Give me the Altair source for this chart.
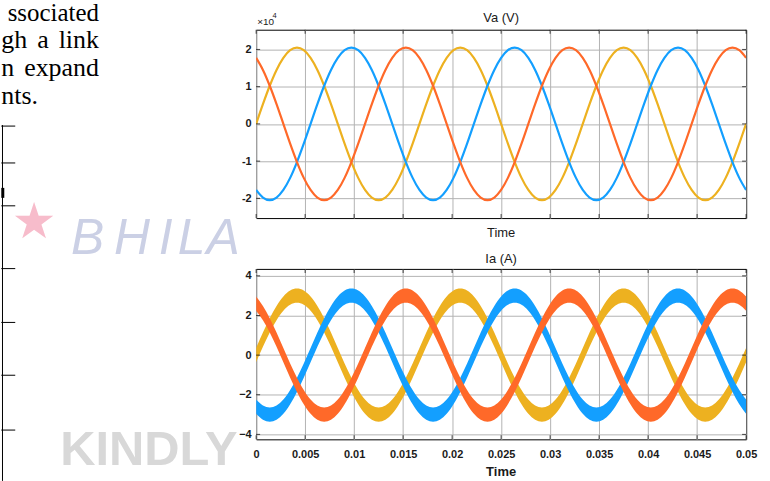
import altair as alt
import pandas as pd

# ---------------- data ----------------
# sample times (s), 15-degree steps of a 60 Hz cycle over 0 .. 0.05 s
time_s = [0.0, 0.000694, 0.001389, 0.002083, 0.002778, 0.003472, 0.004167, 0.004861, 0.005556, 0.00625, 0.006944, 0.007639,
          0.008333, 0.009028, 0.009722, 0.010417, 0.011111, 0.011806, 0.0125, 0.013194, 0.013889, 0.014583, 0.015278, 0.015972,
          0.016667, 0.017361, 0.018056, 0.01875, 0.019444, 0.020139, 0.020833, 0.021528, 0.022222, 0.022917, 0.023611, 0.024306,
          0.025, 0.025694, 0.026389, 0.027083, 0.027778, 0.028472, 0.029167, 0.029861, 0.030556, 0.03125, 0.031944, 0.032639,
          0.033333, 0.034028, 0.034722, 0.035417, 0.036111, 0.036806, 0.0375, 0.038194, 0.038889, 0.039583, 0.040278, 0.040972,
          0.041667, 0.042361, 0.043056, 0.04375, 0.044444, 0.045139, 0.045833, 0.046528, 0.047222, 0.047917, 0.048611, 0.049306,
          0.05]

# Va (V)
va_yellow = [0, 5310, 10250, 14500, 17750, 19800, 20500, 19800, 17750, 14500, 10250, 5310,
             0, -5310, -10250, -14500, -17750, -19800, -20500, -19800, -17750, -14500, -10250, -5310,
             0, 5310, 10250, 14500, 17750, 19800, 20500, 19800, 17750, 14500, 10250, 5310,
             0, -5310, -10250, -14500, -17750, -19800, -20500, -19800, -17750, -14500, -10250, -5310,
             0, 5310, 10250, 14500, 17750, 19800, 20500, 19800, 17750, 14500, 10250, 5310,
             0, -5310, -10250, -14500, -17750, -19800, -20500, -19800, -17750, -14500, -10250, -5310,
             0]
va_blue = [-17750, -19800, -20500, -19800, -17750, -14500, -10250, -5310, 0, 5310, 10250, 14500,
           17750, 19800, 20500, 19800, 17750, 14500, 10250, 5310, 0, -5310, -10250, -14500,
           -17750, -19800, -20500, -19800, -17750, -14500, -10250, -5310, 0, 5310, 10250, 14500,
           17750, 19800, 20500, 19800, 17750, 14500, 10250, 5310, 0, -5310, -10250, -14500,
           -17750, -19800, -20500, -19800, -17750, -14500, -10250, -5310, 0, 5310, 10250, 14500,
           17750, 19800, 20500, 19800, 17750, 14500, 10250, 5310, 0, -5310, -10250, -14500,
           -17750]
va_orange = [17750, 14500, 10250, 5310, 0, -5310, -10250, -14500, -17750, -19800, -20500, -19800,
             -17750, -14500, -10250, -5310, 0, 5310, 10250, 14500, 17750, 19800, 20500, 19800,
             17750, 14500, 10250, 5310, 0, -5310, -10250, -14500, -17750, -19800, -20500, -19800,
             -17750, -14500, -10250, -5310, 0, 5310, 10250, 14500, 17750, 19800, 20500, 19800,
             17750, 14500, 10250, 5310, 0, -5310, -10250, -14500, -17750, -19800, -20500, -19800,
             -17750, -14500, -10250, -5310, 0, 5310, 10250, 14500, 17750, 19800, 20500, 19800,
             17750]

# Ia (A) - centre of the rippled trace
ia_yellow = [0, 0.78, 1.5, 2.12, 2.6, 2.9, 3.0, 2.9, 2.6, 2.12, 1.5, 0.78,
             0, -0.78, -1.5, -2.12, -2.6, -2.9, -3.0, -2.9, -2.6, -2.12, -1.5, -0.78,
             0, 0.78, 1.5, 2.12, 2.6, 2.9, 3.0, 2.9, 2.6, 2.12, 1.5, 0.78,
             0, -0.78, -1.5, -2.12, -2.6, -2.9, -3.0, -2.9, -2.6, -2.12, -1.5, -0.78,
             0, 0.78, 1.5, 2.12, 2.6, 2.9, 3.0, 2.9, 2.6, 2.12, 1.5, 0.78,
             0, -0.78, -1.5, -2.12, -2.6, -2.9, -3.0, -2.9, -2.6, -2.12, -1.5, -0.78,
             0]
ia_blue = [-2.6, -2.9, -3.0, -2.9, -2.6, -2.12, -1.5, -0.78, 0, 0.78, 1.5, 2.12,
           2.6, 2.9, 3.0, 2.9, 2.6, 2.12, 1.5, 0.78, 0, -0.78, -1.5, -2.12,
           -2.6, -2.9, -3.0, -2.9, -2.6, -2.12, -1.5, -0.78, 0, 0.78, 1.5, 2.12,
           2.6, 2.9, 3.0, 2.9, 2.6, 2.12, 1.5, 0.78, 0, -0.78, -1.5, -2.12,
           -2.6, -2.9, -3.0, -2.9, -2.6, -2.12, -1.5, -0.78, 0, 0.78, 1.5, 2.12,
           2.6, 2.9, 3.0, 2.9, 2.6, 2.12, 1.5, 0.78, 0, -0.78, -1.5, -2.12,
           -2.6]
ia_orange = [2.6, 2.12, 1.5, 0.78, 0, -0.78, -1.5, -2.12, -2.6, -2.9, -3.0, -2.9,
             -2.6, -2.12, -1.5, -0.78, 0, 0.78, 1.5, 2.12, 2.6, 2.9, 3.0, 2.9,
             2.6, 2.12, 1.5, 0.78, 0, -0.78, -1.5, -2.12, -2.6, -2.9, -3.0, -2.9,
             -2.6, -2.12, -1.5, -0.78, 0, 0.78, 1.5, 2.12, 2.6, 2.9, 3.0, 2.9,
             2.6, 2.12, 1.5, 0.78, 0, -0.78, -1.5, -2.12, -2.6, -2.9, -3.0, -2.9,
             -2.6, -2.12, -1.5, -0.78, 0, 0.78, 1.5, 2.12, 2.6, 2.9, 3.0, 2.9,
             2.6]
ia_ripple = 0.36  # half height of the switching-ripple band (A)

phases = ["yellow", "blue", "orange"]
phase_colors = ["#EDB120", "#139FFF", "#FF6929"]

time_ticks = [0, 0.005, 0.01, 0.015, 0.02, 0.025, 0.03, 0.035, 0.04, 0.045, 0.05]
va_ticks = [-20000, -10000, 0, 10000, 20000]
ia_ticks = [-4, -2, 0, 2, 4]
time_domain = [0, 0.05]
va_domain = [-25300, 25300]
ia_domain = [-4.25, 4.35]

# ---------------- layout ----------------
W, H1, H2, GAP = 491.6, 189, 171, 51
OX, OY = 255.7, 28.3           # page position of the top plot area
PAGE_W, PAGE_H = 770, 481
SANS = "Liberation Sans"
SERIF = "Liberation Serif"
INK = "#1a1a1a"
one = pd.DataFrame({"k": [0]})


def label(text, x, y, size=11, weight="normal", font=SANS, color=INK,
          align="center", baseline="alphabetic", style=None):
    kw = dict(fontSize=size, fontWeight=weight, font=font, color=color,
              align=align, baseline=baseline)
    if style:
        kw["fontStyle"] = style
    return alt.Chart(pd.DataFrame({"label": [text]})).mark_text(**kw).encode(
        text="label:N", x=alt.value(x), y=alt.value(y))


def seg(x1, y1, x2, y2, color="#000000", width=1.0):
    return alt.Chart(one).mark_rule(color=color, strokeWidth=width).encode(
        x=alt.value(x1 - OX), x2=alt.value(x2 - OX),
        y=alt.value(y1 - OY), y2=alt.value(y2 - OY))


xs = alt.Scale(domain=time_domain, nice=False, zero=False)

# ---------------- top panel: Va ----------------
x_top = alt.X("t:Q", scale=xs, axis=alt.Axis(values=time_ticks, labels=False, ticks=False,
                                            domain=False, title=None, grid=True))
y_top = alt.Y("v:Q", scale=alt.Scale(domain=va_domain, nice=False, zero=False),
              axis=alt.Axis(values=va_ticks, labelExpr="datum.value / 10000", ticks=False,
                            domain=False, title=None, grid=True, labelPadding=5))

canvas = alt.Chart(one).mark_rect(fill="white", fillOpacity=0, strokeOpacity=0).encode(
    x=alt.value(-OX), x2=alt.value(PAGE_W - OX), y=alt.value(-OY), y2=alt.value(PAGE_H - OY))

# page decorations around the figure (surrounding document)
wm_blue = "#cbd0e5"
deco = [
    label("B", 70 - OX, 253 - OY, size=50, color=wm_blue, align="left", style="italic"),
    label("H", 113 - OX, 253 - OY, size=50, color=wm_blue, align="left", style="italic"),
    label("I", 158 - OX, 253 - OY, size=50, color=wm_blue, align="left", style="italic"),
    label("L", 177 - OX, 253 - OY, size=50, color=wm_blue, align="left", style="italic"),
    label("A", 206 - OX, 253 - OY, size=50, color=wm_blue, align="left", style="italic"),
    label("\u2605", 33 - OX, 222 - OY, size=50, font="DejaVu Sans", color="#f7bccb", baseline="middle"),
    label("KINDLY", 237 - OX, 465 - OY, size=49, weight="bold", color="#d8d8d8", align="right"),
    label("ssociated", 98 - OX, 19.8 - OY, size=25, font=SERIF, color="#000000", align="right"),
    label("gh", 0 - OX, 46.5 - OY, size=26, font=SERIF, color="#000000", align="left"),
    label("a", 36 - OX, 46.5 - OY, size=26, font=SERIF, color="#000000", align="left"),
    label("link", 98 - OX, 46.5 - OY, size=26, font=SERIF, color="#000000", align="right"),
    label("n", 0 - OX, 75 - OY, size=26, font=SERIF, color="#000000", align="left"),
    label("expand", 98 - OX, 75 - OY, size=26, font=SERIF, color="#000000", align="right"),
    label("nts.", 0 - OX, 103 - OY, size=26, font=SERIF, color="#000000", align="left"),
    seg(1.2, 124, 1.2, 481),
]
for yy in [125, 162, 205, 268, 322, 375, 430]:
    deco.append(seg(0, yy, 14, yy))
deco.append(seg(1.5, 187, 1.5, 197, width=3))

va_series = [va_yellow, va_blue, va_orange]
va_layers = [
    alt.Chart(pd.DataFrame({"t": time_s, "v": vals})).mark_line(
        color=c, strokeWidth=2.2, interpolate="monotone", clip=True).encode(x=x_top, y=y_top)
    for vals, c in zip(va_series, phase_colors)
]

tick_x_df = pd.DataFrame({"t": time_ticks})
tick_v_df = pd.DataFrame({"v": va_ticks})
top_ticks = [
    alt.Chart(tick_x_df).mark_tick(color="#000000", size=4, thickness=1).encode(x=x_top, y=alt.value(H1 - 2)),
    alt.Chart(tick_x_df).mark_tick(color="#000000", size=4, thickness=1).encode(x=x_top, y=alt.value(2)),
    alt.Chart(tick_v_df).mark_tick(color="#000000", size=4, thickness=1).encode(y=y_top, x=alt.value(2)),
    alt.Chart(tick_v_df).mark_tick(color="#000000", size=4, thickness=1).encode(y=y_top, x=alt.value(W - 2)),
]

top_text = [
    label("Va (V)", W / 2, -7.6, size=13),
    label("\u00d710", 1, -4.3, size=10, align="left"),
    label("4", 16.5, -11.8, size=7.5, align="left"),
    label("Time", W / 2, 207.7, size=13),
]

top = alt.layer(canvas, *deco, *va_layers, *top_ticks, *top_text).properties(width=W, height=H1)

# ---------------- bottom panel: Ia ----------------
x_bot = alt.X("t:Q", scale=xs, axis=alt.Axis(values=time_ticks, format="~g", ticks=False,
                                            domain=False, title=None, grid=True, labelPadding=9))
y_bot = alt.Y("lo:Q", scale=alt.Scale(domain=ia_domain, nice=False, zero=False),
              axis=alt.Axis(values=ia_ticks, ticks=False, domain=False, title=None,
                            grid=True, labelPadding=5))

ia_series = [ia_yellow, ia_blue, ia_orange]
ia_layers = [
    alt.Chart(pd.DataFrame({"t": time_s, "i": vals})).transform_calculate(
        lo=f"datum.i - {ia_ripple}", hi=f"datum.i + {ia_ripple}"
    ).mark_area(color=c, opacity=1, interpolate="monotone", clip=True).encode(
        x=x_bot, y=y_bot, y2="hi:Q")
    for vals, c in zip(ia_series, phase_colors)
]

tick_i_df = pd.DataFrame({"lo": ia_ticks})
bot_ticks = [
    alt.Chart(tick_x_df).mark_tick(color="#000000", size=4, thickness=1).encode(x=x_bot, y=alt.value(H2 - 2)),
    alt.Chart(tick_x_df).mark_tick(color="#000000", size=4, thickness=1).encode(x=x_bot, y=alt.value(2)),
    alt.Chart(tick_i_df).mark_tick(color="#000000", size=4, thickness=1).encode(y=y_bot, x=alt.value(2)),
    alt.Chart(tick_i_df).mark_tick(color="#000000", size=4, thickness=1).encode(y=y_bot, x=alt.value(W - 2)),
]

bot_text = [
    label("Ia (A)", W / 2, -5.6, size=13),
    label("Time", W / 2, 207.7, size=13, weight="bold"),
]

bottom = alt.layer(*ia_layers, *bot_ticks, *bot_text).properties(width=W, height=H2)

chart = alt.vconcat(top, bottom, spacing=GAP, bounds="flush").properties(
    padding=0
).configure_view(
    stroke="#000000", strokeWidth=1
).configure_axis(
    gridColor="#b3b3b3", gridWidth=1, gridOpacity=1,
    labelFont=SANS, labelFontSize=11, labelFontWeight="bold", labelColor=INK,
    labelFlush=False, labelOverlap=False
)

chart.save("out.html", embed_options={"renderer": "svg", "actions": False})
